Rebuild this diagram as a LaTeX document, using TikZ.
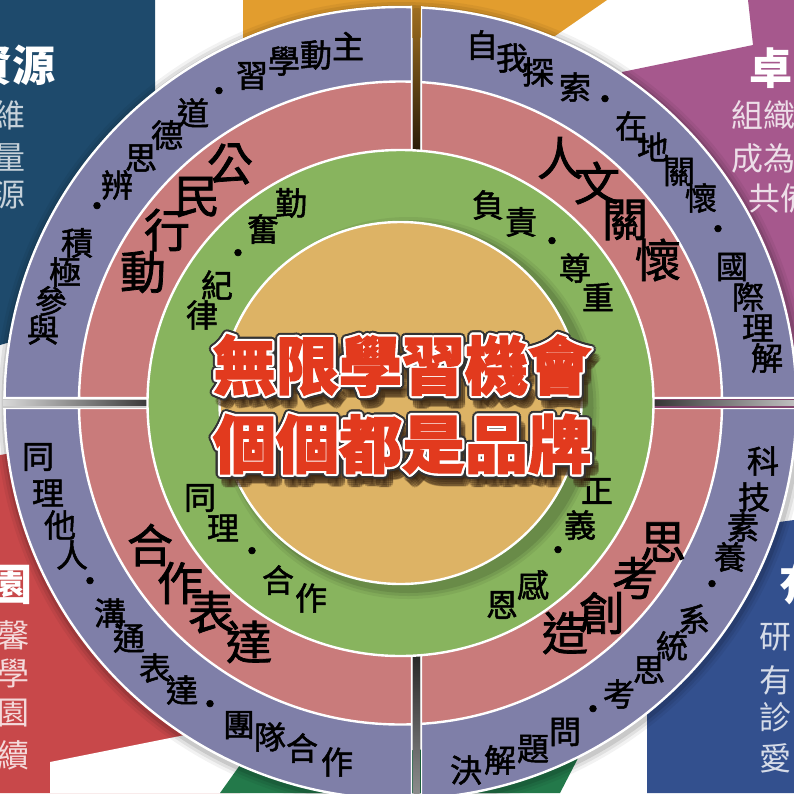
\documentclass[tikz,border=0pt]{standalone}
\usepackage{fontspec}
\newfontfamily\cjk{Noto Sans CJK TC}
\newfontfamily\cjkring{Noto Sans CJK TC}[FakeBold=1.6]
\newfontfamily\cjkheavy{Noto Sans CJK TC}[BoldFeatures={FakeBold=2}]
\usetikzlibrary{calc}
\definecolor{ringout}{HTML}{7F7FA8}
\definecolor{ringmid}{HTML}{C97B7B}
\definecolor{ringin}{HTML}{88B45E}
\definecolor{core}{HTML}{DDB365}
\definecolor{titlered}{HTML}{E23A1E}
\definecolor{panelteal}{HTML}{1E4A6C}
\definecolor{panelplum}{HTML}{A6588D}
\definecolor{panelred}{HTML}{C8484A}
\definecolor{panelnavy}{HTML}{33508E}
\definecolor{panelorange}{HTML}{E29D2E}
\definecolor{panelgreen}{HTML}{23794A}
\tikzstyle{outtxt}=[font=\cjkring\fontsize{32}{32}\selectfont, inner sep=0pt]
\tikzstyle{midtxt}=[font=\cjkring\fontsize{46}{46}\selectfont, inner sep=0pt]
\tikzstyle{intxt}=[font=\cjkring\fontsize{32}{32}\selectfont, inner sep=0pt]
\tikzstyle{headtxt}=[font=\cjk\bfseries\fontsize{43}{43}\selectfont, inner sep=0pt, text=white]
\tikzstyle{sidetxt}=[font=\cjk\fontsize{32}{32}\selectfont, inner sep=0pt]
\tikzstyle{titletxt}=[font=\cjkheavy\bfseries\fontsize{63}{63}\selectfont, inner sep=0pt]
\tikzstyle{edge}=[draw=white, line width=2.4pt]
\newcommand{\drawquad}[4]
{
  \begin{scope}
    \clip (#1,#2) rectangle (#3,#4);
    \clip (C) circle (397.5pt);
    \fill[ringout] (C) circle (396pt);
    \fill[ringmid] (C) circle (321.5pt);
    \draw[edge] (C) circle (396pt) (C) circle (321.5pt) (#1,#2) rectangle (#3,#4);
  \end{scope}
}
\newcommand{\titleline}[2]
{
  \foreach \a [count=\i] in {0,30,...,330}
    \node[titletxt, text=black!70!brown, opacity=0.2] (#1s\i) at ($(#1)+(5,9)+(\a:4pt)$) {#2};
  \foreach \a [count=\i] in {0,22.5,...,337.5}
    \node[titletxt, text=black!80] (#1d\i) at ($(#1)+(\a:4.4pt)$) {#2};
  \foreach \a [count=\i] in {0,30,...,330}
    \node[titletxt, text=white] (#1w\i) at ($(#1)+(\a:2.3pt)$) {#2};
  \node[titletxt, text=titlered] (#1txt) at (#1) {#2};
}
\begin{document}
\begin{tikzpicture}[x=1pt, y=-1pt]
	\useasboundingbox (0,0) rectangle (794,793);
	\coordinate (C) at (400.5,403);
	\coordinate (t1) at (402,365);
	\coordinate (t2) at (402,444);

	% background panels
	\fill[white] (0,0) rectangle (794,793);
	\fill[panelteal] (0,0) -- (155,0) -- (155,300) -- (0,345) -- cycle;
	\fill[panelorange] (243,0) -- (607,0) -- (555,36) -- (243,40) -- cycle;
	\fill[panelplum] (748,0) -- (794,0) -- (794,420) -- (640,420) -- (622,72) -- (753,45) -- cycle;
	\fill[panelred] (0,455) -- (60,445) -- (200,700) -- (240,793) -- (0,793) -- cycle;
	\fill[white] (50,793) -- (50,762) -- (250,722) -- (250,793) -- cycle;
	\fill[panelgreen] (220,793) -- (240,765) -- (590,735) -- (560,793) -- cycle;
	\fill[panelnavy] (647,793) -- (647,540) -- (794,520) -- (794,793) -- cycle;

	% soft shadow of the rings
	\foreach \r/\o in {406/0.05,403/0.07,400/0.1}
		\fill[black, opacity=\o] ($(C)+(1,2)$) circle (\r pt);

	\drawquad{412}{398}{-5}{-5}
	\drawquad{421}{398}{800}{-5}
	\drawquad{412}{408}{-5}{800}
	\drawquad{421}{408}{800}{800}

	% bars in the gaps
	\shade[left color=black!15, right color=black] (3,400.5) rectangle (200,405.5);
	\shade[left color=black, right color=black!25] (600,400.5) rectangle (794,405.5);
	\shade[top color=black!30!panelorange, bottom color=black] (413.5,8) rectangle (419.5,200);
	\shade[top color=black, bottom color=black!45] (413.5,600) rectangle (419.5,793);

	\fill[ringin] (C) circle (253pt);
	\draw[edge] (C) circle (253pt);
	\foreach \r/\o in {191/0.06,188/0.08,185/0.1}
		\fill[black, opacity=\o] ($(C)+(8,5)$) circle (\r pt);
	\fill[core] (C) circle (181pt);
	\draw[edge] (C) circle (181pt);

	% top left
	\foreach \c/\x/\y [count=\i] in {主/348/46, 動/316/55, 學/284/61, 習/252/76, ・/219/95, 道/193/113, 德/167/135, 思/141/158, 辨/117/185, ・/97/210, 積/77/243, 極/65/272, 參/51/301, 與/43/330}
		\node[outtxt] (tlo\i) at (\x,\y) {\c};
	\foreach \c/\x/\y [count=\i] in {公/230/164, 民/197/197, 行/167/230, 動/143/272}
		\node[midtxt] (tlm\i) at (\x,\y) {\c};
	\foreach \c/\x/\y [count=\i] in {勤/291/203, 奮/263/229, ・/238/257, 紀/217/285, 律/202/315}
		\node[intxt] (tli\i) at (\x,\y) {\c};

	% top right
	\foreach \c/\x/\y [count=\i] in {自/482/45, 我/512/58, 探/538/72, 索/575/87, ・/605/103, 在/631/126, 地/653/147, 關/679/172, 懷/701/198, ・/718/233, 國/732/267, 際/748/297, 理/758/328, 解/767/358}
		\node[outtxt] (tro\i) at (\x,\y) {\c};
	\foreach \c/\x/\y [count=\i] in {人/560/158, 文/597/183, 關/625/220, 懷/658/260}
		\node[midtxt] (trm\i) at (\x,\y) {\c};
	\foreach \c/\x/\y [count=\i] in {負/488/205, 責/521/222, ・/552/245, 尊/575/268, 重/598/297}
		\node[intxt] (tri\i) at (\x,\y) {\c};

	% bottom left
	\foreach \c/\x/\y [count=\i] in {同/38/457, 理/48/493, 他/60/525, 人/72/555, ・/90/585, 溝/110/613, 通/129/638, 表/155/668, 達/182/690, ・/210/708, 團/239/725, 隊/270/737, 合/302/748, 作/337/762}
		\node[outtxt] (blo\i) at (\x,\y) {\c};
	\foreach \c/\x/\y [count=\i] in {合/150/545, 作/180/583, 表/211/612, 達/249/642}
		\node[midtxt] (blm\i) at (\x,\y) {\c};
	\foreach \c/\x/\y [count=\i] in {同/200/498, 理/223/528, ・/252/555, 合/278/580, 作/311/598}
		\node[intxt] (bli\i) at (\x,\y) {\c};

	% bottom right
	\foreach \c/\x/\y [count=\i] in {科/763/461, 技/754/497, 素/743/527, 養/730/557, ・/712/588, 系/694/619, 統/672/646, 思/649/670, 考/619/694, ・/593/713, 問/565/732, 題/533/749, 解/500/760, 決/466/770}
		\node[outtxt] (bro\i) at (\x,\y) {\c};
	\foreach \c/\x/\y [count=\i] in {思/663/542, 考/635/578, 創/602/613, 造/565/633}
		\node[midtxt] (brm\i) at (\x,\y) {\c};
	\foreach \c/\x/\y [count=\i] in {正/597/491, 義/580/525, ・/558/554, 感/533/585, 恩/502/605}
		\node[intxt] (bri\i) at (\x,\y) {\c};

	% corner texts
	\node[headtxt, anchor=east] (tlhead) at (56,65) {資源};
	\foreach \c/\y [count=\i] in {維/115, 量/157, 源/195}
		\node[sidetxt, text=white!75!panelteal] (tls\i) at (10,\y) {\c};
	\node[headtxt] (trhead) at (771,68) {卓};
	\node[sidetxt, anchor=west, text=white!80!panelplum] (trs1) at (731,115) {組織};
	\node[sidetxt, anchor=west, text=white!80!panelplum] (trs2) at (731,158) {成為};
	\node[sidetxt, anchor=west, text=white!80!panelplum] (trs3) at (748,198) {共備};
	\node[headtxt] (blhead) at (11,585) {園};
	\foreach \c/\y [count=\i] in {馨/635, 學/673, 園/713, 續/755}
		\node[sidetxt, text=white!80!panelred] (bls\i) at (14,\y) {\c};
	\node[headtxt] (brhead) at (801,584) {有};
	\foreach \c/\y [count=\i] in {研/637, 有/680, 診/717, 愛/758}
		\node[sidetxt, text=white!80!panelnavy] (brs\i) at (775,\y) {\c};

	\titleline{t1}{無限學習機會}
	\titleline{t2}{個個都是品牌}

\end{tikzpicture}
\end{document}
